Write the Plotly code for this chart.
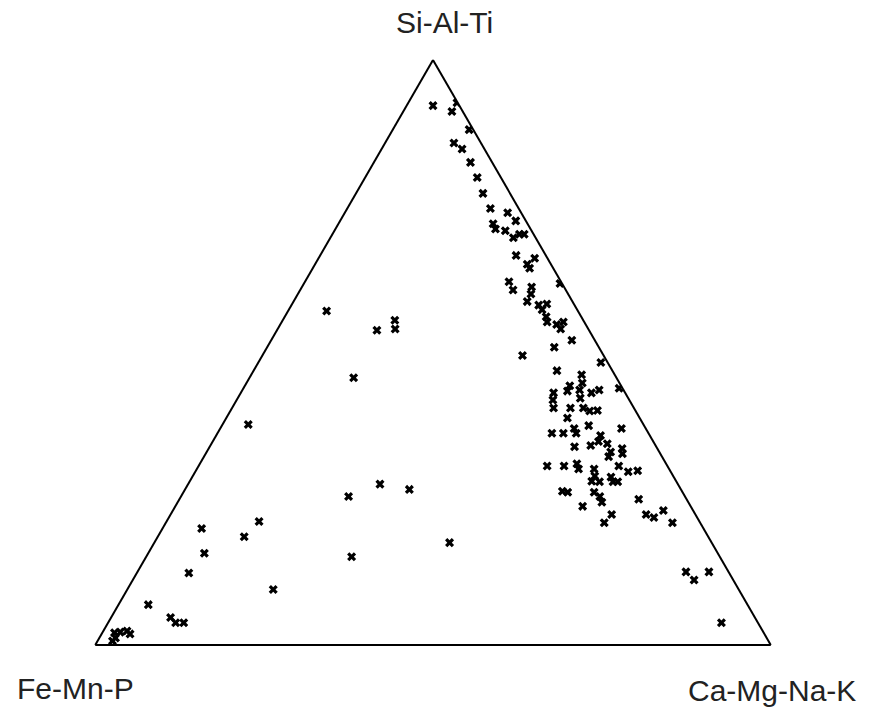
import plotly.graph_objects as go

# Ternary composition (%)
si_al_ti = [92.2, 91.2, 92.7, 88.1, 85.8, 84.8, 82.5, 79.9, 77.2, 74.6,
            72.0, 71.1, 73.9, 72.5, 70.8, 69.6, 70.2, 70.2, 66.6, 65.1,
            66.1, 64.4, 62.1, 60.7, 61.2, 60.0, 61.8, 58.7, 58.1, 58.3,
            57.3, 56.1, 55.2, 54.8, 55.2, 54.0,
            49.5, 50.9, 52.1, 48.3, 46.9, 46.2, 44.8, 44.3, 43.4, 43.6,
            43.1, 43.6, 43.9, 43.1, 41.9, 40.5, 40.5, 42.2, 40.5, 40.0,
            40.1, 38.8, 37.0, 37.5, 36.2, 36.2, 36.2, 37.0, 35.8, 33.9,
            34.1, 34.8, 34.4, 33.0, 32.2, 33.6, 32.7, 30.6, 30.6, 31.0,
            30.1, 30.1, 28.9, 28.0, 27.9, 28.7, 27.9, 27.9, 30.6, 29.6,
            29.8, 26.3, 26.1, 26.1, 25.4, 24.4, 23.7, 24.9, 22.3, 20.9,
            22.3, 21.8, 23.0, 20.9,
            12.5, 11.1, 12.5, 3.8,
            57.1, 53.8, 55.5, 54.0, 45.7, 37.7, 27.5, 26.6, 25.4, 21.1,
            19.9, 18.5, 15.7, 17.5, 12.3, 15.1, 9.5, 6.9, 4.7, 3.8,
            3.8, 2.1, 2.2, 2.4, 1.9, 0.7, 1.2]

ca_mg_na_k = [3.9, 7.2, 7.2, 11.3, 10.2, 11.9, 14.3, 16.6, 18.8, 21.2,
              22.9, 23.7, 24.1, 26.0, 25.3, 27.1, 27.7, 28.4, 29.0, 31.4,
              32.0, 32.1, 30.2, 31.5, 34.0, 34.5, 37.9, 34.6, 36.6, 37.7,
              37.5, 38.7, 39.3, 40.9, 41.7, 41.9,
              38.5, 42.5, 44.5, 50.7, 44.9, 48.9, 49.7, 48.1, 48.2, 49.9,
              51.9, 52.8, 55.6, 46.3, 46.8, 47.6, 50.1, 50.7, 52.0, 53.2,
              54.3, 50.5, 52.4, 54.3, 49.5, 51.2, 53.1, 59.4, 56.9, 54.0,
              56.3, 57.1, 58.6, 59.8, 59.9, 61.2, 61.7, 51.6, 54.1, 55.8,
              56.5, 58.8, 59.5, 59.5, 60.7, 62.0, 62.7, 63.4, 62.2, 64.1,
              65.4, 56.0, 56.9, 60.8, 62.0, 62.8, 60.3, 68.0, 65.3, 64.9,
              70.4, 71.8, 72.6, 75.0,
              81.2, 83.1, 84.6, 90.8,
              5.7, 14.8, 16.6, 17.4, 15.4, 3.8, 28.4, 33.2, 24.8, 13.7,
              5.8, 12.8, 8.3, 43.7, 7.7, 30.4, 21.6, 4.4, 8.8, 10.0,
              11.2, 1.8, 2.6, 3.5, 4.2, 2.2, 2.4]

fe_mn_p = [round(100 - a - c, 1) for a, c in zip(si_al_ti, ca_mg_na_k)]

apex_labels = ["Si-Al-Ti", "Fe-Mn-P", "Ca-Mg-Na-K"]

fig = go.Figure()
fig.add_trace(go.Scatterternary(
    a=si_al_ti, b=fe_mn_p, c=ca_mg_na_k,
    mode="markers",
    marker=dict(symbol="x", size=8, color="black", line=dict(width=0)),
    showlegend=False,
    hoverinfo="a+b+c",
))

axis_style = dict(
    showgrid=False, showticklabels=False, ticks="",
    linecolor="black", linewidth=2, title=dict(text=""),
    min=0,
)

fig.update_layout(
    width=871, height=715,
    margin=dict(l=0, r=0, t=0, b=0),
    paper_bgcolor="white",
    font=dict(family="Liberation Sans, Arial, sans-serif", color="#222"),
    ternary=dict(
        sum=100,
        domain=dict(x=[95 / 871, 771 / 871], y=[70 / 715, 655 / 715]),
        bgcolor="white",
        aaxis=axis_style,
        baxis=axis_style,
        caxis=axis_style,
    ),
    annotations=[
        dict(text=apex_labels[0], xref="paper", yref="paper",
             x=445 / 871, y=(715 - 22) / 715, xanchor="center", yanchor="middle",
             showarrow=False, font=dict(size=30, color="#222")),
        dict(text=apex_labels[1], xref="paper", yref="paper",
             x=15 / 871, y=(715 - 688) / 715, xanchor="left", yanchor="middle",
             showarrow=False, font=dict(size=30, color="#222")),
        dict(text=apex_labels[2], xref="paper", yref="paper",
             x=858 / 871, y=(715 - 690) / 715, xanchor="right", yanchor="middle",
             showarrow=False, font=dict(size=30, color="#222")),
    ],
)

fig.write_html("out.html")
